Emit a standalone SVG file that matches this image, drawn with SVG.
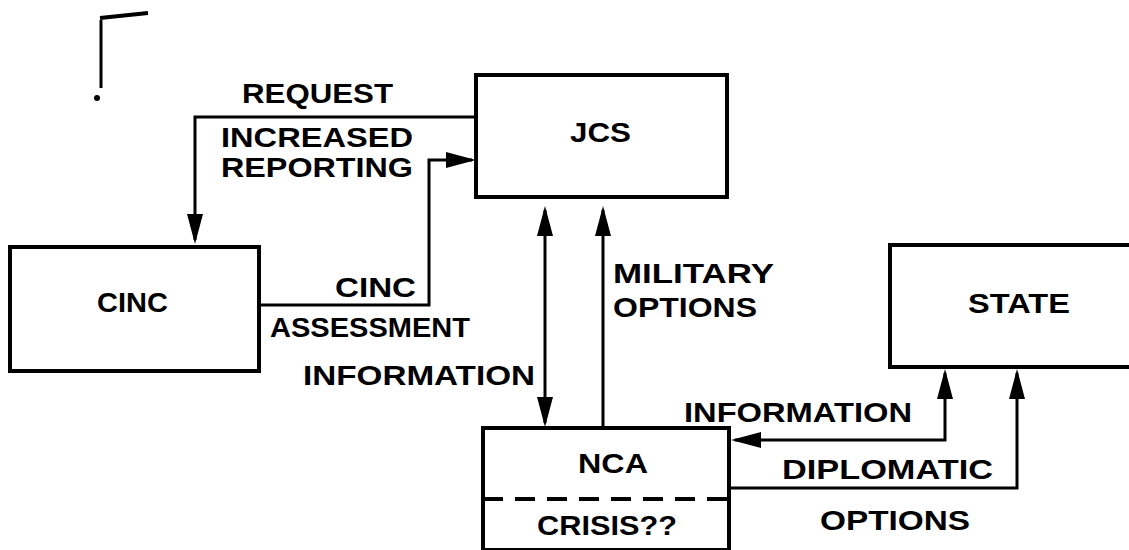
<svg xmlns="http://www.w3.org/2000/svg" width="1129" height="550" viewBox="0 0 1129 550">
<style>
.box{fill:#fff;stroke:#000;stroke-width:4}
.ln{fill:none;stroke:#000;stroke-width:3}
.t{font-family:"Liberation Sans",Arial,sans-serif;font-weight:bold;font-size:28px;fill:#000}
</style>
<defs>
<marker id="ah" viewBox="0 0 30 16" refX="26" refY="8" markerWidth="30" markerHeight="16" markerUnits="userSpaceOnUse" orient="auto-start-reverse">
<path d="M0,0 L30,8 L0,16 Z" fill="#000"/>
</marker>
</defs>
<rect width="1129" height="550" fill="#fff"/>
<g id="mark">
<path d="M101,20 V88" stroke="#000" stroke-width="3" fill="none"/>
<path d="M100,18 L148,13" stroke="#000" stroke-width="4" fill="none"/>
<circle cx="97" cy="98" r="3" fill="#000"/>
</g>
<g id="connectors">
<path class="ln" d="M476,117 H195 V240" marker-end="url(#ah)"/>
<path class="ln" d="M259,305 H429 V160 H472" marker-end="url(#ah)"/>
<path class="ln" d="M545,210 V423" marker-start="url(#ah)" marker-end="url(#ah)"/>
<path class="ln" d="M603,428 V210" marker-end="url(#ah)"/>
<path class="ln" d="M945,373 V440 H735" marker-start="url(#ah)" marker-end="url(#ah)"/>
<path class="ln" d="M729,488 H1017 V373" marker-end="url(#ah)"/>
<text class="t" x="242" y="103" textLength="151" lengthAdjust="spacingAndGlyphs">REQUEST</text>
<text class="t" x="221" y="147" textLength="192" lengthAdjust="spacingAndGlyphs">INCREASED</text>
<text class="t" x="221" y="177" textLength="192" lengthAdjust="spacingAndGlyphs">REPORTING</text>
<text class="t" x="335" y="297" textLength="81" lengthAdjust="spacingAndGlyphs">CINC</text>
<text class="t" x="270" y="337" textLength="200" lengthAdjust="spacingAndGlyphs">ASSESSMENT</text>
<text class="t" x="303" y="385" textLength="232" lengthAdjust="spacingAndGlyphs">INFORMATION</text>
<text class="t" x="613" y="283" textLength="161" lengthAdjust="spacingAndGlyphs">MILITARY</text>
<text class="t" x="613" y="317" textLength="144" lengthAdjust="spacingAndGlyphs">OPTIONS</text>
<text class="t" x="684" y="422" textLength="228" lengthAdjust="spacingAndGlyphs">INFORMATION</text>
<text class="t" x="782" y="479" textLength="211" lengthAdjust="spacingAndGlyphs">DIPLOMATIC</text>
<text class="t" x="820" y="530" textLength="150" lengthAdjust="spacingAndGlyphs">OPTIONS</text>
</g>
<g id="JCS">
<rect class="box" x="476" y="75" width="251" height="122"/>
<text class="t" x="570" y="142" textLength="61" lengthAdjust="spacingAndGlyphs">JCS</text>
</g>
<g id="CINC">
<rect class="box" x="10" y="247" width="249" height="124"/>
<text class="t" x="97" y="312" textLength="71" lengthAdjust="spacingAndGlyphs">CINC</text>
</g>
<g id="STATE">
<rect class="box" x="890" y="245" width="260" height="122"/>
<text class="t" x="968" y="313" textLength="102" lengthAdjust="spacingAndGlyphs">STATE</text>
</g>
<g id="NCA">
<rect class="box" x="483" y="428" width="246" height="122"/>
<line x1="483" y1="499" x2="729" y2="499" stroke="#000" stroke-width="4" stroke-dasharray="20,12"/>
<text class="t" x="578" y="473" textLength="70" lengthAdjust="spacingAndGlyphs">NCA</text>
<text class="t" x="537" y="535" textLength="140" lengthAdjust="spacingAndGlyphs">CRISIS??</text>
</g>
</svg>
